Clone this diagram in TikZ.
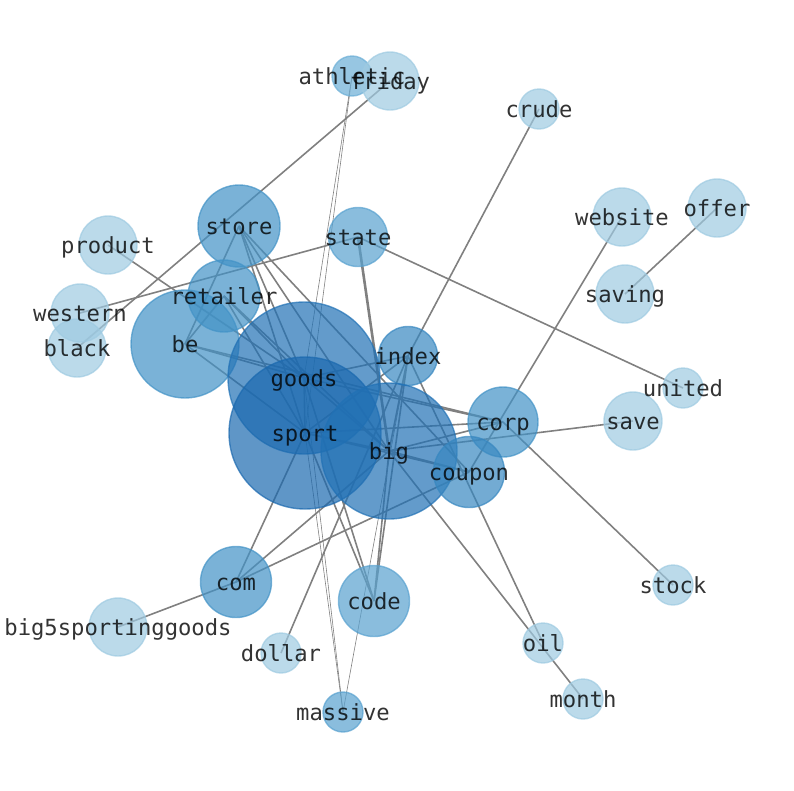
\documentclass[tikz,border=0pt]{standalone}
\usepackage{fontspec}
\newfontfamily\labelfont{DejaVu Sans Mono}
\usetikzlibrary{backgrounds}
\definecolor{blueA}{HTML}{9ECAE1}
\definecolor{blueB}{HTML}{6BAED6}
\definecolor{blueM}{HTML}{58A1CF}
\definecolor{blueC}{HTML}{4292C6}
\definecolor{blueI}{HTML}{3787C0}
\definecolor{blueD}{HTML}{2171B5}
\definecolor{blueS}{HTML}{1B69AF}
\begin{document}
\begin{tikzpicture}[x=1pt,y=-1pt,
    word/.style={circle,inner sep=0pt,fill=#1,draw=#1,fill opacity=.7,draw opacity=.7,line width=1.4pt},
    link/.style={draw=gray,line width=1.6pt},
    faint/.style={draw=gray,line width=.6pt},
    heavy/.style={draw=gray,line width=2.6pt},
    tag/.style={font=\labelfont\fontsize{22.2}{26}\selectfont,text opacity=.8,inner sep=0pt,text height=16.7pt,text depth=5.3pt,yshift=-2.5pt}]
\useasboundingbox (0,0) rectangle (794,790);

\node[word=blueB,minimum size=40pt] (athletic) at (352,76) {};
\node[word=blueA,minimum size=58pt] (friday) at (390,81) {};
\node[word=blueA,minimum size=40pt] (crude) at (539,109) {};
\node[word=blueA,minimum size=58pt] (website) at (622,217) {};
\node[word=blueA,minimum size=58pt] (offer) at (717,208) {};
\node[word=blueA,minimum size=58pt] (product) at (108,245) {};
\node[word=blueC,minimum size=82pt] (store) at (239,226) {};
\node[word=blueM,minimum size=59pt] (state) at (358,237) {};
\node[word=blueA,minimum size=58pt] (western) at (80,313) {};
\node[word=blueA,minimum size=58pt] (black) at (77,348) {};
\node[word=blueC,minimum size=108pt] (be) at (185,344) {};
\node[word=blueC,minimum size=72pt] (retailer) at (224,296) {};
\node[word=blueA,minimum size=58pt] (saving) at (625,294) {};
\node[word=blueI,minimum size=59pt] (index) at (408,356) {};
\node[word=blueA,minimum size=40pt] (united) at (683,388) {};
\node[word=blueD,minimum size=152pt] (goods) at (304,378) {};
\node[word=blueA,minimum size=58pt] (save) at (633,421) {};
\node[word=blueS,minimum size=152pt] (sport) at (305,433) {};
\node[word=blueD,minimum size=136pt] (big) at (389,451) {};
\node[word=blueC,minimum size=70pt] (corp) at (503,422) {};
\node[word=blueI,minimum size=71pt] (coupon) at (469,472) {};
\node[word=blueC,minimum size=71pt] (com) at (236,582) {};
\node[word=blueA,minimum size=40pt] (stock) at (673,585) {};
\node[word=blueM,minimum size=71pt] (code) at (374,601) {};
\node[word=blueA,minimum size=58pt] (big5) at (118,627) {};
\node[word=blueA,minimum size=40pt] (dollar) at (281,653) {};
\node[word=blueA,minimum size=40pt] (oil) at (543,643) {};
\node[word=blueA,minimum size=40pt] (month) at (583,699) {};
\node[word=blueM,minimum size=40pt] (massive) at (343,712) {};

\begin{scope}[on background layer]
\foreach \a/\b in {friday/black,crude/index,website/coupon,offer/saving,product/goods,
    western/state,state/united,store/be,store/goods,store/sport,store/big,store/coupon,
    retailer/be,retailer/goods,retailer/big,retailer/sport,be/goods,be/sport,be/corp,
    goods/index,sport/index,goods/corp,sport/corp,big/corp,big/coupon,sport/coupon,
    goods/big,goods/sport,sport/big,save/big,corp/stock,big/month,index/oil,index/big,
    index/code,big/code,code/goods,code/sport,com/sport,com/big,com/coupon,com/big5,
    dollar/index}
  \draw[link] (\a.center) -- (\b.center);
\foreach \a/\b in {athletic/goods,athletic/sport,massive/goods,massive/sport,massive/index}
  \draw[faint] (\a.center) -- (\b.center);
\draw[heavy] (state.center) -- (big.center);
\end{scope}

\foreach \n/\t in {athletic/athletic,friday/friday,crude/crude,website/website,offer/offer,
    product/product,store/store,state/state,western/western,black/black,be/be,
    retailer/retailer,saving/saving,index/index,united/united,goods/goods,save/save,
    sport/sport,big/big,corp/corp,coupon/coupon,com/com,stock/stock,code/code,
    big5/big5sportinggoods,dollar/dollar,oil/oil,month/month,massive/massive}
  \node[tag] (\n-t) at (\n) {\t};
\end{tikzpicture}
\end{document}
